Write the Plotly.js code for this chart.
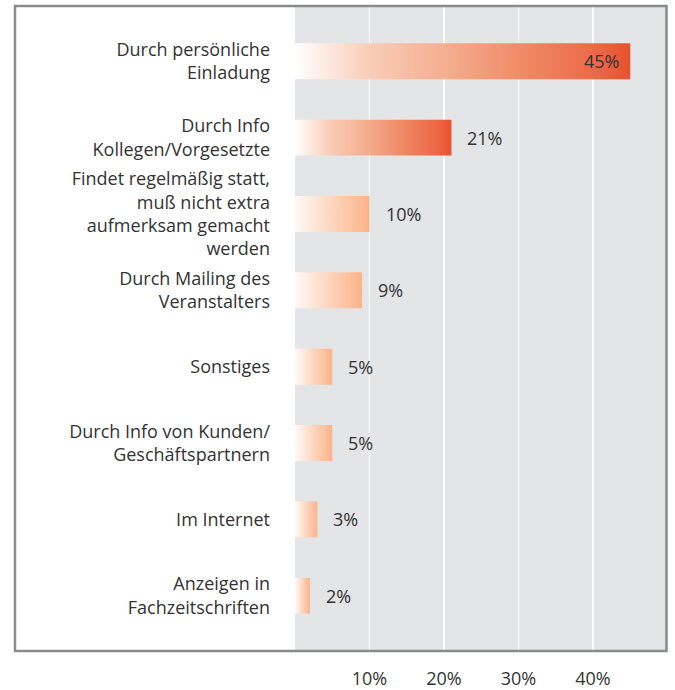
<!DOCTYPE html>
<html>
<head>
<meta charset="utf-8">
<script src="https://cdn.plot.ly/plotly-3.0.1.min.js"></script>
<style>
  html, body { margin: 0; padding: 0; background: #ffffff; }
  #chart { width: 675px; height: 690px; }
</style>
</head>
<body>
<div id="chart"></div>
<script>
// ---- data ----
const categories = [
  "Durch persönliche<br>Einladung",
  "Durch Info<br>Kollegen/Vorgesetzte",
  "Findet regelmäßig statt,<br>muß nicht extra<br>aufmerksam gemacht<br>werden",
  "Durch Mailing des<br>Veranstalters",
  "Sonstiges",
  "Durch Info von Kunden/<br>Geschäftspartnern",
  "Im Internet",
  "Anzeigen in<br>Fachzeitschriften"
];
const values = [45, 21, 10, 9, 5, 5, 3, 2];
const tickValues = [10, 20, 30, 40];
const tickLabels = ["10%", "20%", "30%", "40%"];

// ---- style ----
const textColor = "#333333";
const fontFamily = "'Open Sans', 'DejaVu Sans', sans-serif";
const fontSize = 18;
const W = 675, H = 690;
const mL = 295, mR = 9, mT = 7, mB = 40;
const plotW = W - mL - mR, plotH = H - mT - mB;

const trace = {
  type: "bar",
  orientation: "h",
  x: values,
  y: categories,
  marker: { color: "#f4a07c", line: { width: 0 } },
  width: 0.47,
  hoverinfo: "none"
};

const annotations = values.map((v, i) => ({
  x: v,
  y: categories[i],
  xref: "x",
  yref: "y",
  text: v + "%",
  showarrow: false,
  xanchor: i === 0 ? "right" : "left",
  xshift: i === 0 ? -9 : 14,
  font: { family: fontFamily, size: fontSize, color: textColor }
}));

const px2paperX = p => (p - mL) / plotW;
const px2paperY = p => (H - mB - p) / plotH;

const layout = {
  width: W,
  height: H,
  margin: { l: mL, r: mR, t: mT, b: mB, pad: 0 },
  paper_bgcolor: "#ffffff",
  plot_bgcolor: "#e4e5e7",
  showlegend: false,
  font: { family: fontFamily, size: fontSize, color: textColor },
  xaxis: {
    range: [0, 49.8],
    tickvals: tickValues,
    ticktext: tickLabels,
    showgrid: true,
    gridcolor: "#ffffff",
    gridwidth: 1.5,
    zeroline: false,
    showline: false,
    ticks: "",
    ticklabelstandoff: 16,
    tickfont: { family: fontFamily, size: fontSize, color: textColor },
    fixedrange: true
  },
  yaxis: {
    type: "category",
    range: [7.71, -0.71],
    showgrid: false,
    zeroline: false,
    showline: false,
    ticks: "",
    ticklabelstandoff: 24,
    tickfont: { family: fontFamily, size: fontSize, color: textColor },
    fixedrange: true
  },
  annotations: annotations,
  shapes: [{
    type: "rect",
    xref: "paper",
    yref: "paper",
    x0: px2paperX(15),
    x1: px2paperX(666.5),
    y0: px2paperY(651),
    y1: px2paperY(6),
    line: { color: "#8a8b8d", width: 2.5 },
    fillcolor: "rgba(0,0,0,0)",
    layer: "above"
  }]
};

function addGradients(gd) {
  const svg = gd.querySelector("svg.main-svg");
  const ns = "http://www.w3.org/2000/svg";
  let defs = svg.querySelector("defs");
  if (!defs) { defs = document.createElementNS(ns, "defs"); svg.insertBefore(defs, svg.firstChild); }
  const grads = {
    gStrong: [[0, "#ffffff"], [0.22, "#f9cdb8"], [0.45, "#f5ae90"], [0.67, "#f08c68"], [0.9, "#ec6847"], [1, "#e8512e"]],
    gLight: [[0, "#fffaf6"], [0.5, "#fdd6bf"], [1, "#fbb388"]]
  };
  Object.keys(grads).forEach(id => {
    const lg = document.createElementNS(ns, "linearGradient");
    lg.setAttribute("id", id);
    lg.setAttribute("x1", "0"); lg.setAttribute("y1", "0");
    lg.setAttribute("x2", "1"); lg.setAttribute("y2", "0");
    grads[id].forEach(s => {
      const st = document.createElementNS(ns, "stop");
      st.setAttribute("offset", s[0]);
      st.setAttribute("stop-color", s[1]);
      lg.appendChild(st);
    });
    defs.appendChild(lg);
  });
  const paths = gd.querySelectorAll(".barlayer .point path");
  paths.forEach((p, i) => {
    const v = values[i];
    p.style.fill = v >= 20 ? "url(#gStrong)" : "url(#gLight)";
  });
}

Plotly.newPlot("chart", [trace], layout, { displayModeBar: false, staticPlot: true })
  .then(addGradients);
</script>
</body>
</html>
